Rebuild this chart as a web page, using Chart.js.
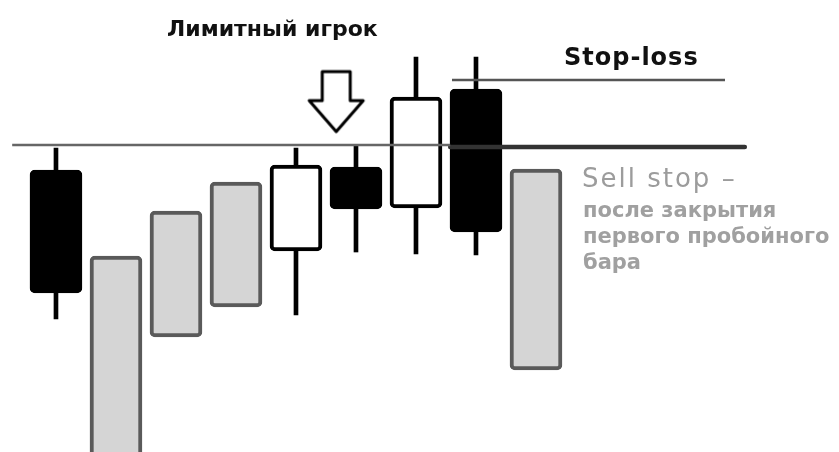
<!DOCTYPE html>
<html>
<head>
<meta charset="utf-8">
<script src="https://cdn.jsdelivr.net/npm/chart.js"></script>
<style>
  html,body{margin:0;padding:0;background:#fff;}
  #wrap{position:relative;width:839px;height:452px;overflow:hidden;}
  .lbl{position:absolute;white-space:nowrap;font-family:"DejaVu Sans",sans-serif;line-height:1;}
  #t1{left:167px;top:18px;font-size:22px;font-weight:700;color:#111;}
  #t2{left:564px;top:45px;font-size:24px;font-weight:700;color:#111;letter-spacing:1px;}
  #t3{left:582px;top:165px;font-size:26px;font-weight:400;color:#9c9c9c;letter-spacing:2px;}
  #t4{left:583px;top:197px;font-size:21px;font-weight:700;color:#a0a0a0;line-height:26px;}
</style>
</head>
<body>
<div id="wrap">
  <canvas id="c" width="839" height="452"></canvas>
  <div class="lbl" id="t1">Лимитный игрок</div>
  <div class="lbl" id="t2">Stop-loss</div>
  <div class="lbl" id="t3">Sell stop –</div>
  <div class="lbl" id="t4">после закрытия<br>первого пробойного<br>бара</div>
</div>
<script>
// ---- data (price units, candle index on x) ----
const IDX    = [0, 1, 2, 3, 4, 5, 6, 7, 8];
const KIND   = ['black','gray','gray','gray','white','black','white','black','gray'];
const BODY_HI = [70.5, 49, 60.25, 67.5, 71.75, 71.25, 88.75, 90.75, 70.75];
const BODY_LO = [39.75, -6, 28.75, 36.25, 50.25, 60.75, 61, 55, 20.5];
const WICK_HI = [76, null, null, null, 76, 76.5, 98.75, 98.75, null];
const WICK_LO = [33.25, null, null, null, 34.25, 50, 49.5, 49.25, null];

// level lines: [xStart, xEnd, y]
const LEVEL_THIN  = [-0.73, 6.57, 76.75];
const LEVEL_THICK = [6.57, 11.48, 76.25];
const STOP_LOSS   = [6.6, 11.15, 93];
// arrow marker above candle 6
const ARROW = {x: 4.67, y: 87.6};

const FILL = {black:'#000', white:'#fff', gray:'#d5d5d5'};
const EDGE = {black:'#000', white:'#000', gray:'#5a5a5a'};

function arrowIcon(){
  const c = document.createElement('canvas');
  c.width = 60; c.height = 66;
  const g = c.getContext('2d');
  g.lineWidth = 3; g.strokeStyle = '#000'; g.fillStyle = '#fff'; g.lineJoin = 'round';
  g.beginPath();
  g.moveTo(16,3); g.lineTo(44,3); g.lineTo(44,32); g.lineTo(57,32);
  g.lineTo(30,63); g.lineTo(3,32); g.lineTo(16,32); g.closePath();
  g.fill(); g.stroke();
  return c;
}

const bodies = IDX.map(i => ({x:i, y:[BODY_LO[i], BODY_HI[i]]}));
const wicks = IDX.filter(i => WICK_HI[i] !== null).map(i => ({x:i, y:[WICK_LO[i], WICK_HI[i]]}));
const seg = s => [{x:s[0], y:s[2]}, {x:s[1], y:s[2]}];

new Chart(document.getElementById('c'), {
  data:{
    datasets:[
      {type:'bar', data:bodies, grouped:false, order:1, barThickness:52,
       backgroundColor:IDX.map(i=>FILL[KIND[i]]), borderColor:IDX.map(i=>EDGE[KIND[i]]),
       borderWidth:4, borderRadius:5, borderSkipped:false},
      {type:'bar', data:wicks, grouped:false, order:2, barThickness:4,
       backgroundColor:'#000', borderWidth:0},
      {type:'line', data:seg(LEVEL_THIN), order:0, borderColor:'#666', borderWidth:2.5, pointRadius:0},
      {type:'line', data:seg(LEVEL_THICK), order:0, borderColor:'#333', borderWidth:4.5, pointRadius:0, borderCapStyle:'round'},
      {type:'line', data:seg(STOP_LOSS), order:0, borderColor:'#555', borderWidth:2.5, pointRadius:0},
      {type:'scatter', data:[ARROW], order:0, pointStyle:arrowIcon(), pointRadius:30}
    ]
  },
  options:{
    responsive:false, animation:false,
    layout:{padding:0, autoPadding:false},
    scales:{
      x:{type:'linear', min:-0.933, max:13.05, offset:false, display:false},
      y:{type:'linear', min:0, max:113, display:false}
    },
    plugins:{legend:{display:false}, tooltip:{enabled:false}}
  }
});
</script>
</body>
</html>
